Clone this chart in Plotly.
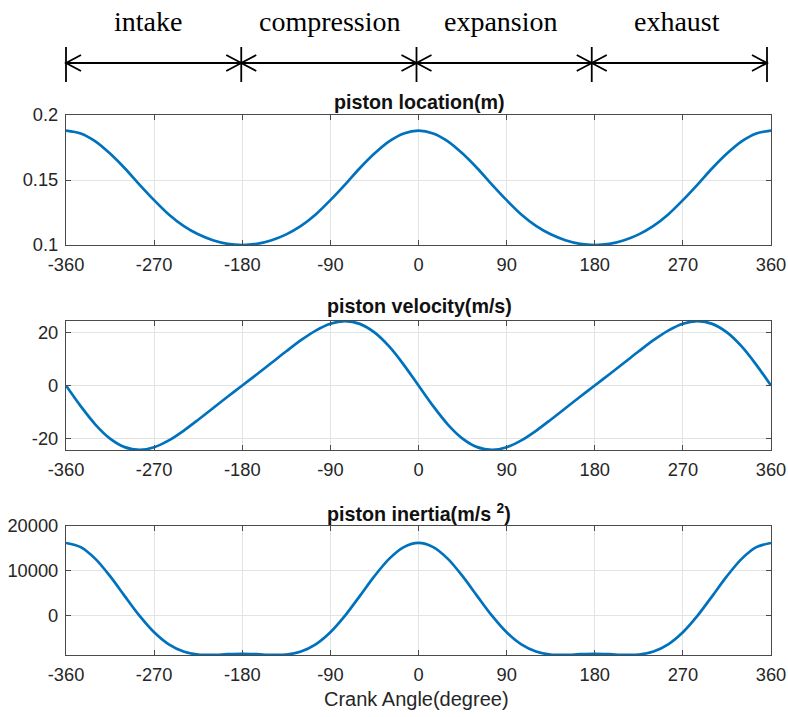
import plotly.graph_objects as go

# ---------------- data ----------------
crank_angle = [-360, -345, -330, -315, -300, -285, -270, -255, -240, -225, -210, -195,
               -180, -165, -150, -135, -120, -105, -90, -75, -60, -45, -30, -15,
               0, 15, 30, 45, 60, 75, 90, 105, 120, 135, 150, 165,
               180, 195, 210, 225, 240, 255, 270, 285, 300, 315, 330, 345, 360]

piston_location = [0.1880, 0.1858, 0.1797, 0.1703, 0.1590, 0.1465, 0.1345, 0.1235, 0.1147, 0.1082, 0.1037, 0.1009,
                   0.1000, 0.1009, 0.1037, 0.1082, 0.1147, 0.1235, 0.1345, 0.1465, 0.1590, 0.1703, 0.1797, 0.1858,
                   0.1880, 0.1858, 0.1797, 0.1703, 0.1590, 0.1465, 0.1345, 0.1235, 0.1147, 0.1082, 0.1037, 0.1009,
                   0.1000, 0.1009, 0.1037, 0.1082, 0.1147, 0.1235, 0.1345, 0.1465, 0.1590, 0.1703, 0.1797, 0.1858, 0.1880]

piston_velocity = [0, -7.84, -14.80, -20.12, -23.36, -24.39, -23.40, -20.81, -17.17, -12.97, -8.60, -4.27,
                   0, 4.27, 8.60, 12.97, 17.17, 20.81, 23.40, 24.39, 23.36, 20.12, 14.80, 7.84,
                   0, -7.84, -14.80, -20.12, -23.36, -24.39, -23.40, -20.81, -17.17, -12.97, -8.60, -4.27,
                   0, 4.27, 8.60, 12.97, 17.17, 20.81, 23.40, 24.39, 23.36, 20.12, 14.80, 7.84, 0]

piston_inertia = [16200, 15269, 12642, 8774, 4308, -73, -3792, -6495, -8100, -8774, -8850, -8701,
                  -8616, -8701, -8850, -8774, -8100, -6495, -3792, -73, 4308, 8774, 12642, 15269,
                  16200, 15269, 12642, 8774, 4308, -73, -3792, -6495, -8100, -8774, -8850, -8701,
                  -8616, -8701, -8850, -8774, -8100, -6495, -3792, -73, 4308, 8774, 12642, 15269, 16200]

x_tick_vals = [-360, -270, -180, -90, 0, 90, 180, 270, 360]
x_tick_text = ["-360", "-270", "-180", "-90", "0", "90", "180", "270", "360"]

loc_tick_vals = [0.1, 0.15, 0.2]
loc_tick_text = ["0.1", "0.15", "0.2"]
vel_tick_vals = [-20, 0, 20]
vel_tick_text = ["-20", "0", "20"]
acc_tick_vals = [0, 10000, 20000]
acc_tick_text = ["0", "10000", "20000"]

panel_titles = ["piston location(m)", "piston velocity(m/s)", "piston inertia(m/s <sup>2</sup>)"]
x_label = "Crank Angle(degree)"
stroke_names = ["intake", "compression", "expansion", "exhaust"]
stroke_bounds = [-360, -180, 0, 180, 360]

# ---------------- layout helpers ----------------
W, H = 788, 717
def px(x):
    return x / W
def py(y):
    return 1 - y / H

BLUE = "#0072BD"
AX = "#4a4a4a"
GRID = "#e3e3e3"
TXT = "#262626"
SANS = "Liberation Sans, Arial, sans-serif"
SERIF = "Liberation Serif, Times New Roman, serif"

x_dom = [px(66), px(771)]
y_doms = [[py(245), py(115)], [py(450), py(321)], [py(655), py(526)]]
y_ranges = [[0.1, 0.2], [-24.45, 24.45], [-8880, 20000]]
y_ticks = [(loc_tick_vals, loc_tick_text), (vel_tick_vals, vel_tick_text), (acc_tick_vals, acc_tick_text)]
series = [piston_location, piston_velocity, piston_inertia]

fig = go.Figure()
layout = dict(
    width=W, height=H, margin=dict(l=0, r=0, t=0, b=0),
    paper_bgcolor="white", plot_bgcolor="white",
    showlegend=False, template="none",
    font=dict(family=SANS, size=18, color=TXT),
)

for i in range(3):
    n = "" if i == 0 else str(i + 1)
    fig.add_trace(go.Scatter(
        x=crank_angle, y=series[i], mode="lines",
        line=dict(color=BLUE, width=2.7, shape="spline", smoothing=0.9),
        xaxis="x" + n, yaxis="y" + n, hoverinfo="skip"))
    common = dict(showline=True, linecolor=AX, linewidth=1.2, mirror="ticks",
                  ticks="inside", ticklen=5, tickwidth=1, tickcolor=AX,
                  showgrid=True, gridcolor=GRID, gridwidth=1, zeroline=False,
                  automargin=False, tickfont=dict(family=SANS, size=18.3, color=TXT))
    layout["xaxis" + n] = dict(common, domain=x_dom, range=[-360, 360],
                               tickmode="array", tickvals=x_tick_vals, ticktext=x_tick_text,
                               anchor="y" + n, ticklabelstandoff=3)
    layout["yaxis" + n] = dict(common, domain=y_doms[i], range=y_ranges[i],
                               tickmode="array", tickvals=y_ticks[i][0], ticktext=y_ticks[i][1],
                               anchor="x" + n, ticklabelstandoff=3)

annotations = []
title_y = [102, 306, 513]
for t, yy in zip(panel_titles, title_y):
    annotations.append(dict(text="<b>" + t + "</b>", x=px(419), y=py(yy), xref="paper", yref="paper",
                            xanchor="center", yanchor="middle", showarrow=False,
                            font=dict(family=SANS, size=19.7, color="#111111")))
annotations.append(dict(text=x_label, x=px(417), y=py(699), xref="paper", yref="paper",
                        xanchor="center", yanchor="middle", showarrow=False,
                        font=dict(family=SANS, size=20, color=TXT)))

# stroke labels and dimension arrows on top, placed on the x scale of the panels
def ax_to_px(a):
    return 66 + (a + 360) / 720 * (767 - 66)

label_x = [148, 330, 501, 677]
for name, lx in zip(stroke_names, label_x):
    annotations.append(dict(text=name, x=px(lx), y=py(22), xref="paper", yref="paper",
                            xanchor="center", yanchor="middle", showarrow=False,
                            font=dict(family=SERIF, size=28, color="black")))

shapes = []
arrow_y = 63
line_style = dict(color="black", width=1.8)
shapes.append(dict(type="line", xref="paper", yref="paper",
                   x0=px(ax_to_px(stroke_bounds[0])), x1=px(ax_to_px(stroke_bounds[-1])),
                   y0=py(arrow_y), y1=py(arrow_y), line=line_style))
for b in stroke_bounds:
    bx = ax_to_px(b)
    shapes.append(dict(type="line", xref="paper", yref="paper",
                       x0=px(bx), x1=px(bx), y0=py(47), y1=py(82), line=line_style))
for k in range(len(stroke_bounds) - 1):
    a0 = ax_to_px(stroke_bounds[k])
    a1 = ax_to_px(stroke_bounds[k + 1])
    for tip, d in ((a0, 1), (a1, -1)):
        path = "M {} {} L {} {} L {} {}".format(
            px(tip + d * 15), py(arrow_y - 8), px(tip), py(arrow_y), px(tip + d * 15), py(arrow_y + 8))
        shapes.append(dict(type="path", xref="paper", yref="paper", path=path, line=line_style))

layout["annotations"] = annotations
layout["shapes"] = shapes
fig.update_layout(**layout)
fig.write_html("out.html", config={"displayModeBar": False},
               post_script="document.body.style.margin='0px';document.body.style.overflow='hidden';")
